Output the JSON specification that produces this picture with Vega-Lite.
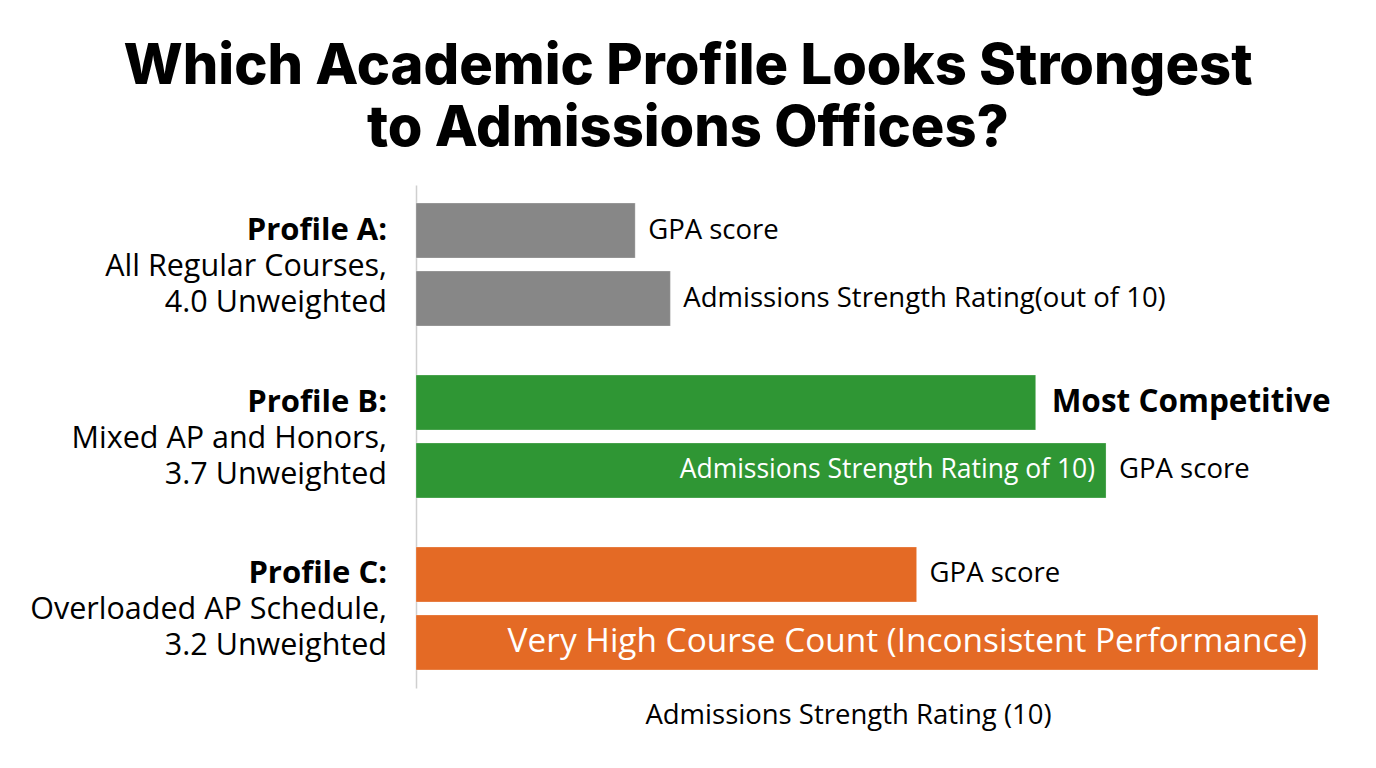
{
  "$schema": "https://vega.github.io/schema/vega-lite/v6.json",
  "autosize": {"type": "none"},
  "width": 902,
  "height": 503,
  "padding": {"left": 416, "top": 185, "right": 58, "bottom": 80},
  "background": "white",
  "config": {
    "view": {"stroke": null},
    "font": "Open Sans"
  },
  "title": {
    "text": ["Which Academic Profile Looks Strongest", "to Admissions Offices?"],
    "font": "Inter",
    "fontWeight": 800,
    "fontSize": 56,
    "lineHeight": 62,
    "color": "black",
    "anchor": "middle",
    "dx": -179,
    "offset": 27
  },
  "data": {
    "values": [
      {"profile": "A", "series": "GPA score", "value": 2.43, "outside": "GPA score", "inside": ""},
      {"profile": "A", "series": "Admissions Strength Rating", "value": 2.82, "outside": "Admissions Strength Rating(out of 10)", "inside": ""},
      {"profile": "B", "series": "GPA score", "value": 6.87, "outside": "Most Competitive", "inside": ""},
      {"profile": "B", "series": "Admissions Strength Rating", "value": 7.65, "outside": "GPA score", "inside": "Admissions Strength Rating of 10)"},
      {"profile": "C", "series": "GPA score", "value": 5.55, "outside": "GPA score", "inside": ""},
      {"profile": "C", "series": "Admissions Strength Rating", "value": 10, "outside": "", "inside": "Very High Course Count (Inconsistent Performance)"}
    ]
  },
  "encoding": {
    "y": {
      "field": "profile",
      "type": "nominal",
      "scale": {"domain": ["A", "B", "C"], "paddingInner": 0.285, "paddingOuter": 0.105},
      "axis": {
        "title": null,
        "labels": false,
        "ticks": false,
        "domainColor": "#cfcfcf",
        "domainWidth": 1.5
      }
    }
  },
  "layer": [
    {
      "mark": {"type": "bar", "stroke": "white", "strokeOpacity": 0.25, "strokeWidth": 1},
      "encoding": {
        "x": {
          "field": "value",
          "type": "quantitative",
          "scale": {"domain": [0, 10], "nice": false, "zero": true},
          "axis": {
            "title": "Admissions Strength Rating (10)",
            "titleFont": "Open Sans",
            "titleFontSize": 27.5,
            "titleFontWeight": "normal",
            "titleColor": "black",
            "titleX": 432,
            "titlePadding": 13,
            "labels": false,
            "ticks": false,
            "domain": false,
            "grid": false
          }
        },
        "yOffset": {
          "field": "series",
          "type": "nominal",
          "sort": ["GPA score", "Admissions Strength Rating"],
          "scale": {"paddingInner": 0.191, "paddingOuter": 0}
        },
        "color": {
          "field": "profile",
          "type": "nominal",
          "scale": {"domain": ["A", "B", "C"], "range": ["#878787", "#2f9634", "#e46a25"]},
          "legend": null
        }
      }
    },
    {
      "transform": [{"filter": "datum.outside !== '' && datum.outside !== 'Most Competitive'"}],
      "mark": {"type": "text", "align": "left", "baseline": "middle", "dx": 13, "fontSize": 27.5, "color": "black"},
      "encoding": {
        "x": {"field": "value", "type": "quantitative"},
        "yOffset": {"field": "series", "type": "nominal", "sort": ["GPA score", "Admissions Strength Rating"], "scale": {"paddingInner": 0.191, "paddingOuter": 0}},
        "text": {"field": "outside"}
      }
    },
    {
      "transform": [{"filter": "datum.outside === 'Most Competitive'"}],
      "mark": {"type": "text", "align": "left", "baseline": "middle", "dx": 16, "fontSize": 31.5, "fontWeight": "bold", "color": "black"},
      "encoding": {
        "x": {"field": "value", "type": "quantitative"},
        "yOffset": {"field": "series", "type": "nominal", "sort": ["GPA score", "Admissions Strength Rating"], "scale": {"paddingInner": 0.191, "paddingOuter": 0}},
        "text": {"field": "outside"}
      }
    },
    {
      "transform": [{"filter": "datum.inside !== ''"}],
      "mark": {"type": "text", "align": "right", "baseline": "middle", "dx": -11, "color": "white"},
      "encoding": {
        "x": {"field": "value", "type": "quantitative"},
        "yOffset": {"field": "series", "type": "nominal", "sort": ["GPA score", "Admissions Strength Rating"], "scale": {"paddingInner": 0.191, "paddingOuter": 0}},
        "text": {"field": "inside"},
        "size": {"condition": {"test": "datum.profile === 'C'", "value": 33.4}, "value": 26.5}
      }
    },
    {
      "data": {
        "values": [
          {"profile": "A", "name": "Profile A:", "detail": ["All Regular Courses,", "4.0 Unweighted"]},
          {"profile": "B", "name": "Profile B:", "detail": ["Mixed AP and Honors,", "3.7 Unweighted"]},
          {"profile": "C", "name": "Profile C:", "detail": ["Overloaded AP Schedule,", "3.2 Unweighted"]}
        ]
      },
      "layer": [
        {
          "mark": {"type": "text", "align": "right", "baseline": "middle", "dx": -29, "dy": -34, "fontSize": 31, "fontWeight": "bold", "color": "black"},
          "encoding": {
            "x": {"datum": 0, "type": "quantitative"},
            "text": {"field": "name"}
          }
        },
        {
          "mark": {"type": "text", "align": "right", "baseline": "middle", "dx": -29, "dy": 2, "fontSize": 30.5, "lineHeight": 36, "color": "black"},
          "encoding": {
            "x": {"datum": 0, "type": "quantitative"},
            "text": {"field": "detail"}
          }
        }
      ]
    }
  ]
}
